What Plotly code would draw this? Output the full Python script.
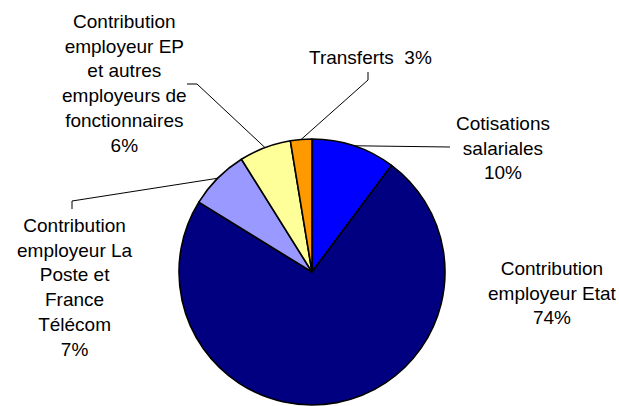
import math
import plotly.graph_objects as go

W, H = 619, 406

# Data (clockwise from 12 o'clock)
categories = [
    "Cotisations<br>salariales",
    "Contribution<br>employeur Etat",
    "Contribution<br>employeur La<br>Poste et<br>France<br>Télécom",
    "Contribution<br>employeur EP<br>et autres<br>employeurs de<br>fonctionnaires",
    "Transferts",
]
values = [10.2, 73.6, 7.3, 6.3, 2.6]
colors = ["#0000FF", "#000080", "#9999FF", "#FFFF99", "#FF9900"]

# Pie geometry (pixels)
CX, CY, R = 312, 272, 133

# Label placement (pixels): text centre, and elbow points of leader lines
label_pos = [(503, 148), (552, 293), (75, 287), (124, 84), (370, 57)]
leader_elbows = [
    [(450, 147)],
    None,
    [(72, 201), (72, 209)],
    [(197, 84), (187, 84)],
    [(368, 80), (368, 72)],
]
same_line = [False, False, False, False, True]


def px(x, y):
    """pixel -> paper coordinates"""
    return x / W, 1 - y / H


fig = go.Figure(go.Pie(
    labels=[c.replace("<br>", " ") for c in categories],
    values=values,
    sort=False,
    direction="clockwise",
    rotation=0,
    textinfo="none",
    hoverinfo="label+percent",
    marker=dict(colors=colors, line=dict(color="black", width=1.6)),
    domain=dict(x=[px(CX - R, 0)[0], px(CX + R, 0)[0]],
                y=[px(0, CY + R)[1], px(0, CY - R)[1]]),
    showlegend=False,
))

total = sum(values)
cum = 0.0
shapes = []
annotations = []
for i, v in enumerate(values):
    mid = (cum + v / 2) / total * 2 * math.pi
    cum += v
    ex = CX + R * math.sin(mid)
    ey = CY - R * math.cos(mid)
    pct = f"{round(v / total * 100)}%"
    sep = "  " if same_line[i] else "<br>"
    tx, ty = px(*label_pos[i])
    annotations.append(dict(
        x=tx, y=ty, xref="paper", yref="paper",
        text=categories[i] + sep + pct, showarrow=False,
        xanchor="center", yanchor="middle", align="center",
        font=dict(family="Liberation Sans, Arial, sans-serif", size=19, color="#000000"),
    ))
    if leader_elbows[i]:
        pts = [(ex, ey)] + leader_elbows[i]
        path = "M " + " L ".join(f"{px(x, y)[0]},{px(x, y)[1]}" for x, y in pts)
        shapes.append(dict(type="path", xref="paper", yref="paper", path=path,
                           line=dict(color="black", width=1)))

fig.update_layout(
    width=W, height=H,
    margin=dict(l=0, r=0, t=0, b=0),
    paper_bgcolor="white", plot_bgcolor="white",
    shapes=shapes, annotations=annotations,
)

fig.write_html(
    "out.html",
    config={"displayModeBar": False},
    post_script="document.body.style.margin='0';document.body.style.overflow='hidden';",
)
